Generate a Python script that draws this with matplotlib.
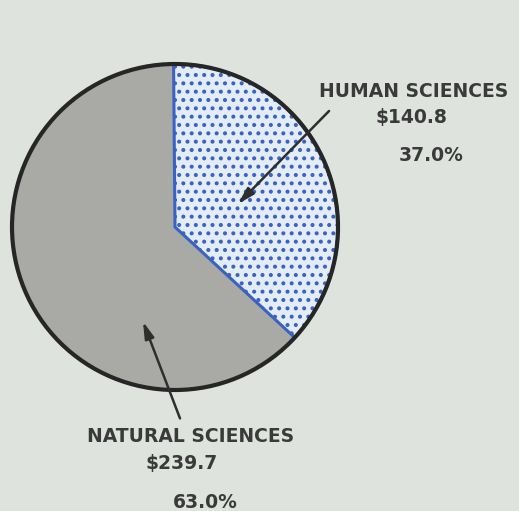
import matplotlib.pyplot as plt
from matplotlib.patches import Circle

# --- data ---
labels = ["HUMAN SCIENCES", "NATURAL SCIENCES"]
amounts = [140.8, 239.7]
amount_labels = ["$140.8", "$239.7"]
pct_labels = ["37.0%", "63.0%"]

plt.rcParams["hatch.linewidth"] = 1.7

W, H = 519, 511
fig = plt.figure(figsize=(W / 100, H / 100), dpi=100, facecolor="#dfe3de")
ax = fig.add_axes([0, 0, 1, 1])

cx, cy, r = 175, H - 227, 163

wedges, _ = ax.pie(
    amounts,
    startangle=90.5,
    counterclock=False,
    center=(cx, cy),
    radius=r,
    frame=True,
)
ax.set_xlim(0, W)
ax.set_ylim(0, H)
ax.set_aspect("equal")
ax.axis("off")

# human: dotted light blue, blue edges
wedges[0].set_facecolor("#e4ecf5")
wedges[0].set_edgecolor("#3a62c2")
wedges[0].set_hatch("..")
wedges[0].set_linewidth(2.2)
wedges[0].set_zorder(3)
# natural: plain gray
wedges[1].set_facecolor("#a9aaa6")
wedges[1].set_edgecolor("none")
wedges[1].set_zorder(2)

ax.add_patch(Circle((cx, cy), r, fill=False, lw=3, ec="#262626", zorder=5))

txt = dict(fontfamily="DejaVu Sans", fontweight="bold", color="#3a3a3a",
           ha="center", va="center", fontsize=13.5)
arrow = dict(arrowstyle="-|>,head_length=1.0,head_width=0.28",
             color="#2e2e2e", lw=1.8)

# HUMAN SCIENCES label
ax.text(414, H - 91, labels[0], **txt)
ax.text(411, H - 117, amount_labels[0], **txt)
ax.text(431, H - 155, pct_labels[0], **txt)
ax.annotate("", xy=(236, H - 206), xytext=(331, H - 109),
            arrowprops=arrow, zorder=6)

# NATURAL SCIENCES label
ax.text(191, H - 437, labels[1], **txt)
ax.text(182, H - 464, amount_labels[1], **txt)
ax.text(205, H - 502, pct_labels[1], **txt)
ax.annotate("", xy=(142, H - 319), xytext=(181, H - 421),
            arrowprops=arrow, zorder=6)

fig.savefig("out.png", dpi=100, facecolor=fig.get_facecolor())
